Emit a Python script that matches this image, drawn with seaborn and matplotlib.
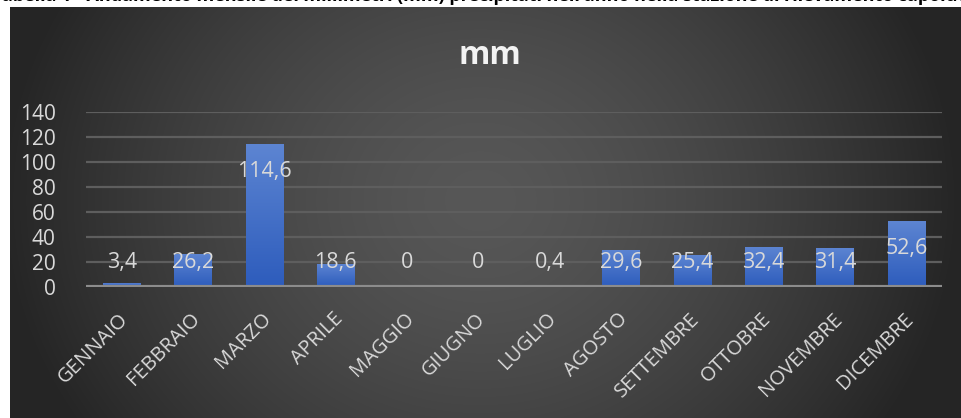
import numpy as np
import pandas as pd
import matplotlib
matplotlib.use("Agg")
import matplotlib.pyplot as plt
import seaborn as sns
from matplotlib.colors import LinearSegmentedColormap

# ---- data ----
months = ["GENNAIO", "FEBBRAIO", "MARZO", "APRILE", "MAGGIO", "GIUGNO",
          "LUGLIO", "AGOSTO", "SETTEMBRE", "OTTOBRE", "NOVEMBRE", "DICEMBRE"]
values = [3.4, 26.2, 114.6, 18.6, 0, 0, 0.4, 29.6, 25.4, 32.4, 31.4, 52.6]
value_labels = ["3,4", "26,2", "114,6", "18,6", "0", "0", "0,4",
                "29,6", "25,4", "32,4", "31,4", "52,6"]
yticks = [0, 20, 40, 60, 80, 100, 120, 140]
chart_title = "mm"
caption_left = "Tabella 1 - Andamento mensile dei millimetri "
caption_right = "(mm) precipitati nell'anno nella stazione di rilevamento capoluogo"

df = pd.DataFrame({"mese": months, "mm": values})

FONT = ["Open Sans", "DejaVu Sans"]
plt.rcParams["font.family"] = FONT
TXT = "#d9d9d9"

W, H = 961, 418
fig = plt.figure(figsize=(W / 100, H / 100), dpi=100)
fig.patch.set_facecolor("white")

# cut-off caption at the very top (only the bottom of the glyphs shows)
fig.text(397 / W, 1 - 1.2 / H, caption_left, ha="right", va="baseline",
         fontsize=13, fontweight="bold", color="black")
fig.text(397 / W, 1 - 1.2 / H, caption_right, ha="left", va="baseline",
         fontsize=13, fontweight="bold", color="black")

# dark radial-gradient chart background
bx0, by0 = 10, 7
bw, bh = W - bx0, H - by0
bg = fig.add_axes([bx0 / W, 0, bw / W, bh / H])
yy, xx = np.mgrid[0:bh, 0:bw]
cx, cy = 480 - bx0, 200 - by0
d = np.sqrt(((xx - cx) / 480.0) ** 2 + ((yy - cy) / 420.0) ** 2)
d = np.clip(d, 0, 1)
val = (87 - 50 * d ** 1.5) / 255.0
bg.imshow(np.dstack([val, val, val]), aspect="auto", interpolation="bilinear")
bg.set_axis_off()

# main axes
ax_left, ax_right = 86 / W, 942 / W
ax_bottom, ax_top = 1 - 287.3 / H, 1 - 111.7 / H
ax = fig.add_axes([ax_left, ax_bottom, ax_right - ax_left, ax_top - ax_bottom])
ax.set_facecolor("none")

sns.barplot(data=df, x="mese", y="mm", color="#4472C4", width=0.52,
            ax=ax, zorder=2)

# vertical gradient on each bar
bar_cmap = LinearSegmentedColormap.from_list("bar", ["#2d5cbc", "#5d85d2"])
grad = np.linspace(0, 1, 256).reshape(-1, 1)
for p in ax.patches:
    x0, y0 = p.get_x(), p.get_y()
    w, h = p.get_width(), p.get_height()
    if h <= 0:
        continue
    im = ax.imshow(grad, cmap=bar_cmap, origin="lower", aspect="auto",
                   extent=[x0, x0 + w, y0, y0 + h], zorder=2.5,
                   interpolation="bilinear")
    im.set_clip_path(p)

ax.set_xlim(-0.5, len(months) - 0.5)
ax.set_ylim(0, 140)

# gridlines and baseline
for t in yticks[1:]:
    ax.axhline(t, color="#5e5e5e", lw=1.6, zorder=1)
ax.axhline(0, color="#8c8c8c", lw=3, zorder=3)

for s in ax.spines.values():
    s.set_visible(False)
ax.set_yticks(yticks)
ax.set_yticklabels([str(t) for t in yticks], fontsize=15, color=TXT)
ax.tick_params(axis="y", length=0, pad=22)
ax.tick_params(axis="x", length=0)
ax.set_xticks(range(len(months)))
ax.set_xticklabels(months, rotation=45, ha="right", va="center",
                   rotation_mode="anchor", fontsize=14.5, color=TXT)
for lbl in ax.get_xticklabels():
    lbl.set_transform(lbl.get_transform() +
                      matplotlib.transforms.ScaledTranslation(4 / 100, -24 / 100, fig.dpi_scale_trans))
ax.set_xlabel("")
ax.set_ylabel("")

# data labels (inside end, kept above the axis)
for i, (v, s) in enumerate(zip(values, value_labels)):
    ypos = max(v - 22, 20)
    ax.text(i, ypos, s, ha="center", va="center", fontsize=15.5,
            color=TXT, zorder=4)

# chart title
fig.text(490 / W, 1 - 55 / H, chart_title, ha="center", va="center",
         fontsize=23, fontweight="bold", color="#f2f2f2")

fig.savefig("out.png", dpi=100, facecolor=fig.get_facecolor())
